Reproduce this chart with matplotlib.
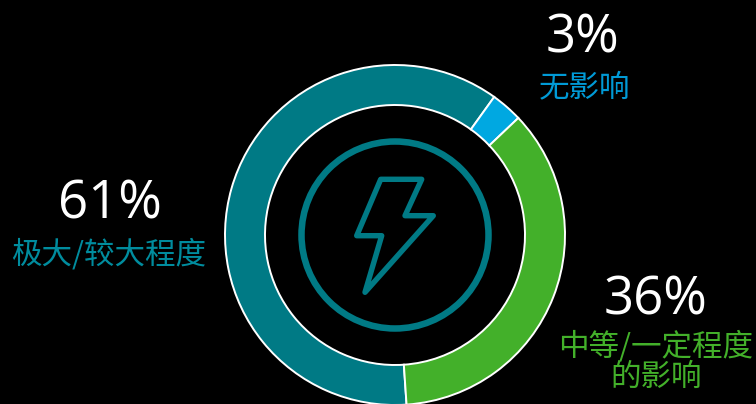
import matplotlib
matplotlib.use("Agg")
import matplotlib.pyplot as plt
from matplotlib.patches import Circle, Polygon

plt.rcParams['font.family'] = ['Noto Sans CJK SC', 'DejaVu Sans']

categories = ["极大/较大程度", "无影响", "中等/一定程度\n的影响"]
values = [61, 3, 36]
pct_labels = ["61%", "3%", "36%"]
colors = ["#007A85", "#00A8E1", "#43B02A"]
label_colors = ["#008C9E", "#009AD6", "#43B02A"]

W, H = 756, 404
CX, CY = 395, H - 235

fig = plt.figure(figsize=(W / 100, H / 100), dpi=100, facecolor="black")
ax = fig.add_axes([0, 0, 1, 1])
ax.set_facecolor("black")

ax.pie(values, colors=colors, center=(CX, CY), radius=170,
       startangle=-86.1, counterclock=False,
       wedgeprops=dict(width=40, edgecolor="white", linewidth=1.4),
       frame=True)
ax.set_xlim(0, W)
ax.set_ylim(0, H)
ax.set_aspect("equal")
ax.axis("off")

icon = "#007A85"
ax.add_patch(Circle((CX, CY), 93.5, fill=False, edgecolor=icon, linewidth=4.7))
bolt = [(380.7, 179.3), (421.7, 179.3), (405, 215.7), (433.3, 215.7),
        (365, 292.3), (381.7, 235.7), (356.7, 235.7)]
ax.add_patch(Polygon([(x, H - y) for x, y in bolt], closed=True, fill=False,
                     edgecolor=icon, linewidth=3.9, joinstyle="round"))

pct_pos = [(110, 205), (582, 39), (656, 301)]
lab_pos = [(109, 255), (585, 88), (656, 362)]
for p, c, lc, (px, py), (lx, ly) in zip(pct_labels, categories, label_colors, pct_pos, lab_pos):
    ax.text(px, H - py, p, color="white", fontsize=38, ha="center", va="center",
            family=["Open Sans", "DejaVu Sans"])
    ax.text(lx, H - ly, c, color=lc, fontsize=22, ha="center", va="center",
            linespacing=0.95)

fig.savefig("out.png", dpi=100, facecolor="black")
